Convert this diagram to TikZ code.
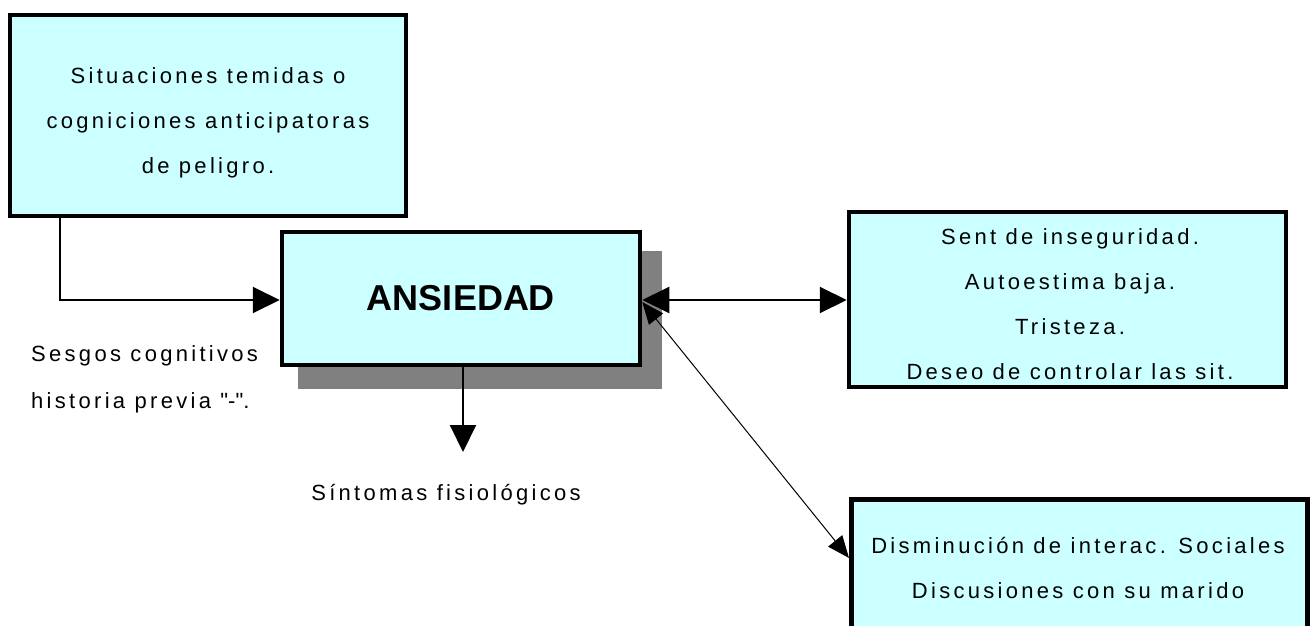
\documentclass[tikz,border=0pt]{standalone}
\usepackage{fontspec}
\setmainfont{Liberation Sans}
\usetikzlibrary{arrows.meta}
\definecolor{boxfill}{HTML}{CCFFFF}
\definecolor{shadowgray}{HTML}{808080}
\newcommand{\txt}{\fontsize{22}{45}\selectfont\addfontfeature{LetterSpace=15}}
\tikzset{
  boxnode/.style={draw=black, fill=boxfill, line width=4.5pt, inner sep=0pt, align=center},
  boxtext/.style={inner sep=0pt, align=center, font=\txt},
  conn/.style={line width=2pt},
  bigtip/.style={-{Triangle[length=27pt,width=26pt]}},
  bigboth/.style={{Triangle[length=27pt,width=26pt]}-{Triangle[length=27pt,width=26pt]}},
  thinconn/.style={line width=1pt, {Triangle[length=22pt,width=18pt]}-{Triangle[length=22pt,width=18pt]}},
  plaintext/.style={inner sep=0pt, align=left, font=\txt}
}
\begin{document}
\begin{tikzpicture}[x=1pt,y=-1pt]
\useasboundingbox[fill=white] (0,0) rectangle (1311,626);
% shadow of central box
\fill[shadowgray] (298,251) rectangle (662,389);
% boxes
\node[boxnode, minimum width=396pt, minimum height=201pt] (sit) at (208,115.5) {};
\node[boxtext] (sittext) at (208,122.5)
  {Situaciones temidas o\\cogniciones anticipatoras\\de peligro.};
\node[boxnode, minimum width=358pt, minimum height=133pt, font=\fontsize{36}{40}\selectfont\bfseries] (ans) at (461,298.5) {ANSIEDAD};
\node[boxnode, minimum width=437pt, minimum height=175pt] (sent) at (1067.5,299.5) {};
\node[boxtext] (senttext) at (1070,304.5)
  {Sent de inseguridad.\\Autoestima baja.\\Tristeza.\\Deseo de controlar las sit.};
\node[boxnode, minimum width=456pt, minimum height=180pt, anchor=north west] (dism) at (849,497) {};
\node[boxtext] (dismtext) at (1078,568)
  {Disminución de interac. Sociales\\Discusiones con su marido};
% free texts
\node[plaintext, anchor=west, font=\fontsize{22}{47}\selectfont\addfontfeature{LetterSpace=15}] (sesgos) at (31,379)
  {Sesgos cognitivos\\historia previa \textquotedbl-\textquotedbl.};
\node[plaintext, anchor=center] (sint) at (446,495) {Síntomas fisiológicos};
% connectors
\coordinate (corner) at (60,300);
\coordinate (downend) at (463,452);
\draw[conn, bigtip] (sit.south -| corner) -- (corner) -- (ans.west |- corner);
\draw[conn, bigtip] (ans.south -| downend) -- (downend);
\draw[conn, bigboth] (ans.east |- 0,300) -- (sent.west |- 0,300);
\draw[thinconn] (ans.east |- 0,302) -- (dism.west |- 0,558);
\end{tikzpicture}
\end{document}
